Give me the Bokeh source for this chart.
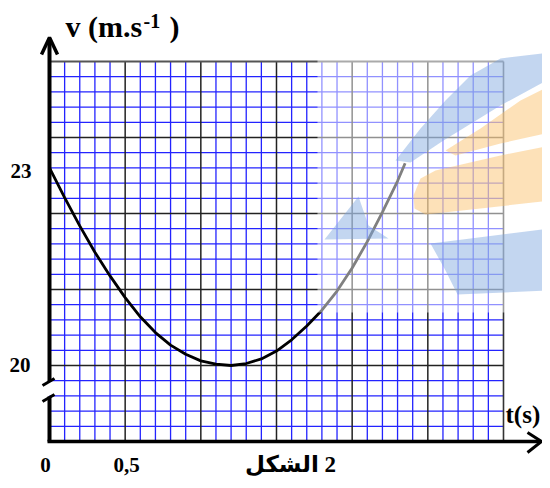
from bokeh.plotting import figure
from bokeh.models import Range1d
from bokeh.embed import file_html
from bokeh.resources import INLINE
from bokeh.core.properties import value

# ---- data ----
t_values = [0.0, 0.1, 0.2, 0.3, 0.4, 0.5, 0.6, 0.7, 0.8, 0.9, 1.0, 1.1, 1.2,
            1.3, 1.4, 1.5, 1.6, 1.7, 1.8, 1.9, 2.0, 2.1, 2.2, 2.3, 2.35]
v_values = [23.0, 22.55, 22.12, 21.72, 21.36, 21.03, 20.74, 20.50, 20.31, 20.17,
            20.07, 20.02, 20.0, 20.03, 20.10, 20.22, 20.39, 20.60, 20.84, 21.13,
            21.48, 21.88, 22.33, 22.80, 23.07]
x_tick_values = [0.0, 0.5]
x_tick_labels = ["0", "0,5"]
y_tick_values = [23.0, 20.0]
y_tick_labels = ["23", "20"]
t_step = 0.1            # one small square on t
t_cells = 30            # 0 .. 3 s
v_base = 20.0
v_step = 3.0 / 13.0     # 13 small squares between 20 and 23 on the picture
v_cells_below = 5
v_cells_above = 20

# ---- picture-pixel <-> data helpers (layout only) ----
PX0, SX = 49.0, 151.33          # t = 0 at x 49, 151 px per second
PY0, SY = 365.0, 15.2 / v_step  # v = 20 at y 365

def tx(px):
    return (px - PX0) / SX

def vy(py):
    return v_base + (PY0 - py) / SY

def ty(py, size):
    # baseline compensation for text rendering
    return vy(py - 0.33 * size)

W, H = 542, 480
p = figure(width=W, height=H, output_backend="svg", toolbar_location=None,
           x_range=Range1d(tx(0), tx(W)), y_range=Range1d(vy(H), vy(0)),
           x_axis_location=None, y_axis_location=None, min_border=0,
           background_fill_color="white", border_fill_color="white")
p.grid.visible = False
p.outline_line_color = None

t_max = t_cells * t_step
v_bot = v_base - v_cells_below * v_step
v_top = v_base + v_cells_above * v_step

# grid
minor_xs, minor_ys, major_xs, major_ys = [], [], [], []
for k in range(1, t_cells):
    t = k * t_step
    (major_xs if k % 5 == 0 else minor_xs).append([t, t])
    (major_ys if k % 5 == 0 else minor_ys).append([v_bot, v_top])
for j in range(-v_cells_below + 1, v_cells_above):
    v = v_base + j * v_step
    (major_xs if j % 5 == 0 else minor_xs).append([0, t_max])
    (major_ys if j % 5 == 0 else minor_ys).append([v, v])
p.multi_line(minor_xs, minor_ys, line_color="#2323ff", line_width=1.3)
p.multi_line(major_xs, major_ys, line_color="#222222", line_width=1.5)
p.line([0, t_max], [v_top, v_top], line_color="#555555", line_width=2.2)
p.line([t_max, t_max], [v_bot, v_top], line_color="#333333", line_width=1.6)

# curve
p.line(t_values, v_values, line_color="black", line_width=2.8)

# watermark logo (semi transparent) over the right part
p.quad(left=tx(317), right=tx(560), top=vy(42), bottom=vy(312),
       fill_color="white", fill_alpha=0.5, line_color=None)
blue_shapes = [
    [(324, 239), (358, 196), (368, 225), (388, 238)],
    [(395, 160), (420, 128), (445, 100), (470, 75), (500, 58), (550, 52),
     (550, 78), (500, 105), (443, 140), (410, 162)],
    [(430, 243), (470, 238), (550, 228), (550, 290), (457, 294), (445, 270)],
]
orange_shapes = [
    [(445, 150), (480, 128), (520, 100), (550, 85), (550, 132), (500, 143), (455, 155)],
    [(413, 195), (420, 178), (435, 170), (500, 155), (550, 145), (550, 200),
     (480, 208), (425, 214), (414, 208)],
]
p.patches([[tx(a) for a, b in s] for s in blue_shapes],
          [[vy(b) for a, b in s] for s in blue_shapes],
          fill_color="#7ba3de", fill_alpha=0.45, line_color=None)
p.patches([[tx(a) for a, b in s] for s in orange_shapes],
          [[vy(b) for a, b in s] for s in orange_shapes],
          fill_color="#fbbd62", fill_alpha=0.45, line_color=None)

# axes with arrows and break
p.line([0, 0], [v_bot, vy(396)], line_color="black", line_width=4)
p.line([0, 0], [vy(381), vy(38)], line_color="black", line_width=4)
p.line([tx(41), 0, tx(57)], [vy(54), vy(37), vy(54)], line_color="black", line_width=3.5)
p.multi_line([[tx(42), tx(54)], [tx(42), tx(54)]],
             [[vy(385), vy(378)], [vy(401), vy(394)]], line_color="black", line_width=3)
p.line([tx(47), tx(540)], [v_bot, v_bot], line_color="black", line_width=3.5)
p.line([tx(527), tx(541), tx(527)], [vy(432), v_bot, vy(452)], line_color="black", line_width=3)

serif = value("Liberation Serif")
def label(x, y, text, size, align="left", font=serif, style="bold"):
    p.text(x=[tx(x)], y=[ty(y, size)], text=[text], text_font=font,
           text_font_size=f"{size}px", text_font_style=style, text_align=align,
           text_baseline="alphabetic", text_color="black")

# tick labels
label(31, 177, y_tick_labels[0], 21, "right")
label(30, 371, y_tick_labels[1], 21, "right")
label(45, 471, x_tick_labels[0], 21, "center")
label(126, 471, x_tick_labels[1], 21, "center")
# axis titles
label(65, 36, "v (m.s", 30)
label(143, 27, "-1", 20)
label(169, 36, ")", 30)
label(505, 422, "t(s)", 25)
label(290, 472, "\u200eالشكل \u200e2", 23, "center", value("Liberation Serif, DejaVu Sans"))

open("out.html", "w").write(file_html(p, INLINE))
